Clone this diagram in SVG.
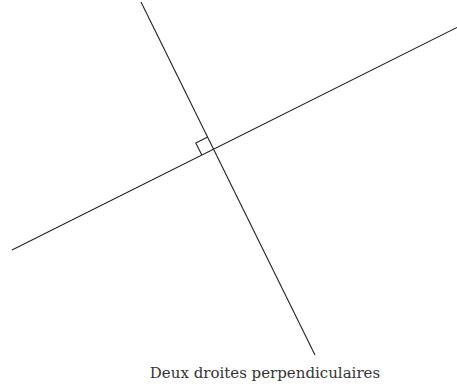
<svg xmlns="http://www.w3.org/2000/svg" width="457" height="387" viewBox="0 0 457 387">
<style>
.ln{stroke:#222;stroke-width:1.1;fill:none}
.cap{font-family:"DejaVu Serif","Liberation Serif",serif;font-size:15px;fill:#333}
</style>
<rect width="457" height="387" fill="#fff"/>
<g id="connectors">
<line class="ln" x1="12" y1="250" x2="457" y2="27.5"/>
<line class="ln" x1="141" y1="2" x2="315" y2="355"/>
</g>
<g id="right-angle">
<polyline class="ln" points="201.8,155 195.8,143 207.8,137"/>
</g>
<g id="caption">
<text class="cap" x="265" y="378" text-anchor="middle">Deux droites perpendiculaires</text>
</g>
</svg>
